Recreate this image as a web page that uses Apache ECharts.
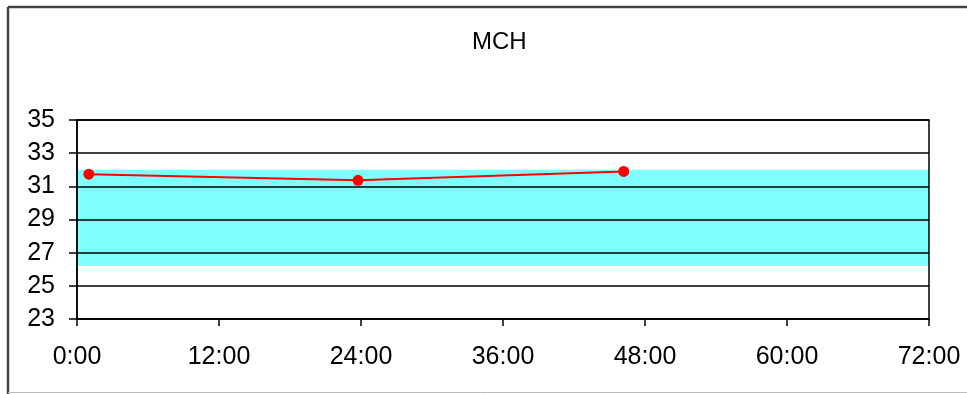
<!DOCTYPE html>
<html>
<head>
<meta charset="utf-8">
<script src="https://cdn.jsdelivr.net/npm/echarts@6/dist/echarts.min.js"></script>
<style>
  html, body { margin: 0; padding: 0; background: #fff; }
  #chart { width: 967px; height: 394px; }
</style>
</head>
<body>
<div id="chart"></div>
<script>
// MCH readings over time (hours since admission)
const hours = [1, 23.75, 46.2];
const mchValues = [31.73, 31.36, 31.9];
// reference range shown as the shaded band
const refLow = 26.2;
const refHigh = 32;
// axis extents
const xMin = 0, xMax = 72, xStep = 12;
const yMin = 23, yMax = 35, yStep = 2;
const titleText = 'MCH';

const font = '"Liberation Sans", Arial, sans-serif';
const chart = echarts.init(document.getElementById('chart'));

chart.setOption({
  animation: false,
  backgroundColor: '#ffffff',
  title: {
    text: titleText,
    left: 467,
    top: 25,
    textStyle: { fontFamily: font, fontSize: 24, fontWeight: 'normal', color: '#000' }
  },
  grid: {
    left: 77, right: 38, top: 120, bottom: 75, z: 2,
    show: true, borderColor: '#000', borderWidth: 1.5, backgroundColor: 'transparent'
  },
  xAxis: {
    type: 'value',
    min: xMin, max: xMax, interval: xStep,
    z: 2,
    axisLine: { show: true, onZero: false, lineStyle: { color: '#000', width: 1.5 } },
    axisTick: { show: true, length: 7, lineStyle: { color: '#000', width: 1.5 } },
    splitLine: { show: false },
    axisLabel: {
      margin: 26,
      fontFamily: font, fontSize: 25, color: '#000',
      formatter: v => v + ':00'
    }
  },
  yAxis: {
    type: 'value',
    min: yMin, max: yMax, interval: yStep,
    z: 2,
    axisLine: { show: true, lineStyle: { color: '#000', width: 1.5 } },
    axisTick: { show: true, length: 8, lineStyle: { color: '#000', width: 1.5 } },
    splitLine: { show: true, lineStyle: { color: '#000', width: 1.5 } },
    axisLabel: { margin: 22, fontFamily: font, fontSize: 25, color: '#000' }
  },
  series: [
    {
      name: 'range',
      type: 'line',
      z: 1,
      data: [],
      silent: true,
      markArea: {
        silent: true,
        itemStyle: { color: '#80ffff', opacity: 1 },
        data: [[{ yAxis: refLow }, { yAxis: refHigh }]]
      }
    },
    {
      name: titleText,
      type: 'line',
      z: 3,
      data: hours.map((h, i) => [h, mchValues[i]]),
      symbol: 'circle',
      symbolSize: 11,
      lineStyle: { color: '#ff0000', width: 2 },
      itemStyle: { color: '#ff0000' }
    }
  ],
  graphic: [
    { type: 'line', shape: { x1: 8, y1: 7, x2: 967, y2: 7 }, style: { stroke: '#444', lineWidth: 2.5 } },
    { type: 'line', shape: { x1: 8, y1: 7, x2: 8, y2: 394 }, style: { stroke: '#444', lineWidth: 2.5 } },
    { type: 'line', shape: { x1: 8, y1: 392.5, x2: 967, y2: 392.5 }, style: { stroke: '#bbb', lineWidth: 1 } }
  ]
});
</script>
</body>
</html>
